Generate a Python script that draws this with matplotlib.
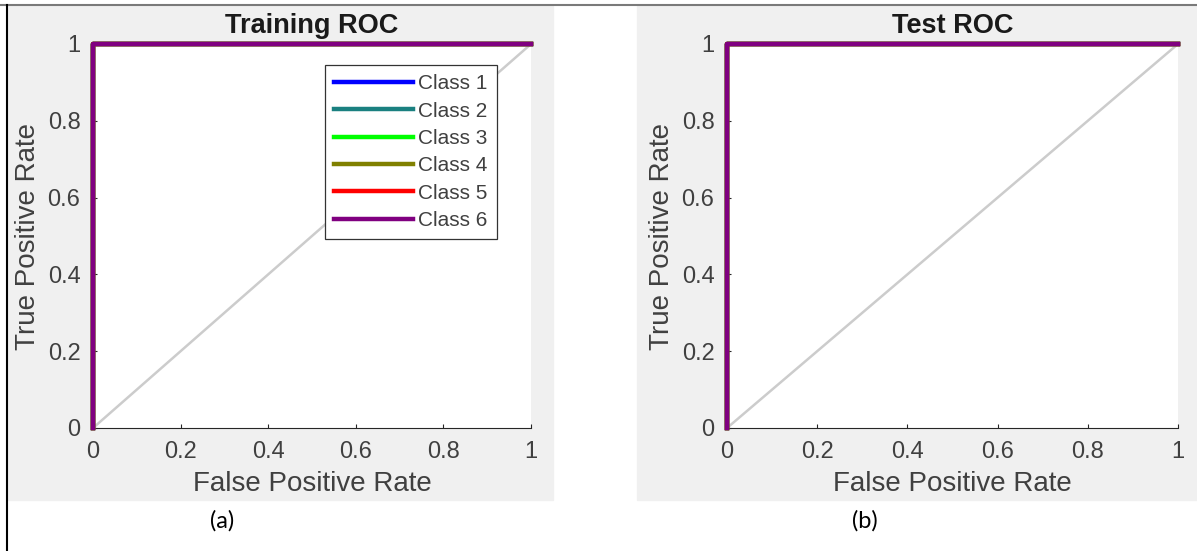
import matplotlib
matplotlib.use("Agg")
import matplotlib.pyplot as plt
from matplotlib.patches import Rectangle
from matplotlib.lines import Line2D

# ROC points per class (all classes reach a perfect curve)
class_names = ["Class 1", "Class 2", "Class 3", "Class 4", "Class 5", "Class 6"]
class_colors = ["#0000ff", "#1a8080", "#00ff00", "#808000", "#ff0000", "#800080"]
train_fpr = [[0, 0, 1]] * 6
train_tpr = [[0, 1, 1]] * 6
test_fpr = [[0, 0, 1]] * 6
test_tpr = [[0, 1, 1]] * 6
chance = [0, 1]
ticks = [0, 0.2, 0.4, 0.6, 0.8, 1]
tick_labels = ["0", "0.2", "0.4", "0.6", "0.8", "1"]

plt.rcParams['font.family'] = ['Liberation Sans', 'DejaVu Sans']

W, H = 1197, 551
fig = plt.figure(figsize=(W / 100, H / 100), dpi=100)
fig.patch.set_facecolor("white")

# gray MATLAB-like panels
fig.patches.append(Rectangle((8 / W, 1 - 500 / H), 545 / W, 494 / H,
                             transform=fig.transFigure, color="#f0f0f0", zorder=-5))
fig.patches.append(Rectangle((637 / W, 1 - 500 / H), 560 / W, 494 / H,
                             transform=fig.transFigure, color="#f0f0f0", zorder=-5))
# border lines of the original picture
fig.lines.append(Line2D([0, 1], [1 - 5 / H, 1 - 5 / H], transform=fig.transFigure,
                        color="#7a7a7a", lw=1.5))
fig.lines.append(Line2D([7 / W, 7 / W], [0, 1 - 5 / H], transform=fig.transFigure,
                        color="black", lw=1.5))

def draw_roc(rect, fpr, tpr, title, show_legend):
    ax = fig.add_axes(rect)
    ax.set_facecolor("white")
    ax.plot(chance, chance, color="#cccccc", lw=1.8, zorder=1)
    for name, col, x, y in zip(class_names, class_colors, fpr, tpr):
        ax.plot(x, y, color=col, lw=3.2, label=name, clip_on=False, zorder=3)
    ax.set_xlim(0, 1)
    ax.set_ylim(0, 1)
    ax.set_xticks(ticks)
    ax.set_xticklabels(tick_labels)
    ax.set_yticks(ticks)
    ax.set_yticklabels(tick_labels)
    for s in ["top", "right"]:
        ax.spines[s].set_visible(False)
    for s in ["left", "bottom"]:
        ax.spines[s].set_color("#262626")
        ax.spines[s].set_linewidth(0.8)
    ax.tick_params(direction="in", length=3, width=0.8, color="#262626",
                   labelsize=17, labelcolor="#404040", pad=9)
    ax.set_xlabel("False Positive Rate", fontsize=20, color="#404040", labelpad=6)
    ax.set_ylabel("True Positive Rate", fontsize=20, color="#404040", labelpad=5)
    ax.set_title(title, fontsize=19.5, fontweight="bold", color="#1a1a1a", pad=8)
    if show_legend:
        leg = ax.legend(loc="upper left", bbox_to_anchor=(0.5297, 0.9453),
                        borderaxespad=0, fontsize=15, handlelength=3.75,
                        labelspacing=0.4, handletextpad=0.28, borderpad=0.45,
                        fancybox=False, framealpha=1, edgecolor="#333333")
        leg.get_frame().set_linewidth(0.9)
        for t in leg.get_texts():
            t.set_color("#404040")
    return ax

draw_roc([93 / W, 123 / H, 438 / W, 384 / H], train_fpr, train_tpr, "Training ROC", True)
draw_roc([727 / W, 123 / H, 451 / W, 384 / H], test_fpr, test_tpr, "Test ROC", False)

fig.text(222 / W, 1 - 521 / H, "(a)", fontsize=17, family=["Lato", "DejaVu Sans"],
         ha="center", va="center", color="black")
fig.text(865 / W, 1 - 521 / H, "(b)", fontsize=17, family=["Lato", "DejaVu Sans"],
         ha="center", va="center", color="black")

fig.savefig("out.png", dpi=100)
